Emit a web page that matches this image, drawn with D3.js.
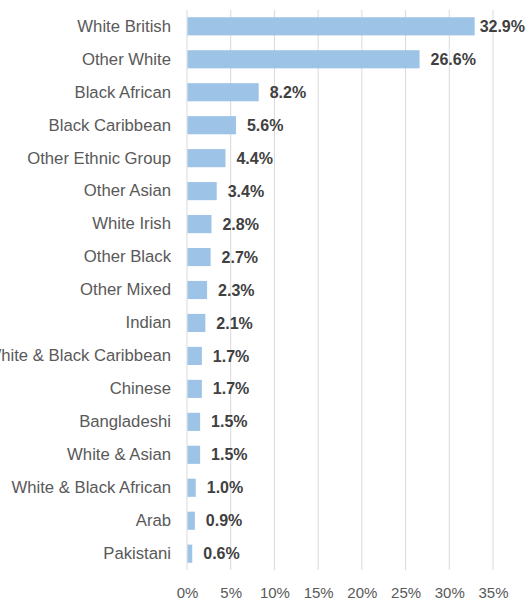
<!DOCTYPE html>
<html>
<head>
<meta charset="utf-8">
<script src="https://cdn.jsdelivr.net/npm/d3@7"></script>
<style>
  html, body { margin: 0; padding: 0; background: #fff; }
  svg { display: block; }
</style>
</head>
<body>
<svg id="chart" width="526" height="601"></svg>
<script>
// Ethnic groups, largest first
const categories = [
  "White British", "Other White", "Black African", "Black Caribbean",
  "Other Ethnic Group", "Other Asian", "White Irish", "Other Black",
  "Other Mixed", "Indian", "White & Black Caribbean", "Chinese",
  "Bangladeshi", "White & Asian", "White & Black African", "Arab", "Pakistani"
];
// Share of population, percent
const shares = [32.9, 26.6, 8.2, 5.6, 4.4, 3.4, 2.8, 2.7, 2.3, 2.1, 1.7, 1.7, 1.5, 1.5, 1.0, 0.9, 0.6];
const xTicks = [0, 5, 10, 15, 20, 25, 30, 35];

const data = categories.map((c, i) => ({ name: c, value: shares[i] }));

const svg = d3.select("#chart");
const margin = { top: 10, right: 33, bottom: 31, left: 187 };
const W = 526, H = 601;

const x = d3.scaleLinear().domain([0, 35]).range([margin.left, W - margin.right]);
const y = d3.scaleBand().domain(categories).range([margin.top, H - margin.bottom]).paddingInner(0.45).paddingOuter(0.22);

const font = "'Liberation Sans', Arial, sans-serif";

// vertical gridlines
svg.append("g")
  .selectAll("line")
  .data(xTicks)
  .join("line")
  .attr("x1", d => x(d)).attr("x2", d => x(d))
  .attr("y1", margin.top).attr("y2", H - margin.bottom)
  .attr("stroke", "#d9d9d9").attr("stroke-width", 1);

// x axis labels
const xAxis = d3.axisBottom(x).tickValues(xTicks).tickFormat(d => d + "%").tickSize(0).tickPadding(0);
const gx = svg.append("g").attr("transform", `translate(0,${H - margin.bottom})`).call(xAxis);
gx.select(".domain").remove();
gx.selectAll("text")
  .attr("dy", null).attr("y", 28)
  .attr("fill", "#595959").style("font-family", font).style("font-size", "15px");

// bars
svg.append("g")
  .selectAll("rect")
  .data(data)
  .join("rect")
  .attr("x", x(0) + 0.5)
  .attr("y", d => y(d.name))
  .attr("width", d => x(d.value) - x(0) - 0.5)
  .attr("height", y.bandwidth())
  .attr("fill", "#9dc3e6");

// category labels
const yAxis = d3.axisLeft(y).tickSize(0).tickPadding(16);
const gy = svg.append("g").attr("transform", `translate(${x(0)},0)`).call(yAxis);
gy.select(".domain").remove();
gy.selectAll("text")
  .attr("fill", "#595959").style("font-family", font).style("font-size", "16.7px");

// value labels, kept inside the right edge of the drawing
const labels = svg.append("g")
  .selectAll("text")
  .data(data)
  .join("text")
  .attr("x", d => x(d.value) + 11)
  .attr("y", d => y(d.name) + y.bandwidth() / 2)
  .attr("dy", "0.35em")
  .attr("fill", "#404040")
  .style("font-family", font)
  .style("font-size", "16px")
  .style("font-weight", "bold")
  .text(d => d.value.toFixed(1) + "%");

labels.each(function () {
  const t = d3.select(this);
  const w = this.getComputedTextLength();
  const x0 = +t.attr("x");
  if (x0 + w > W - 1) t.attr("x", W - 1 - w);
});
</script>
</body>
</html>
